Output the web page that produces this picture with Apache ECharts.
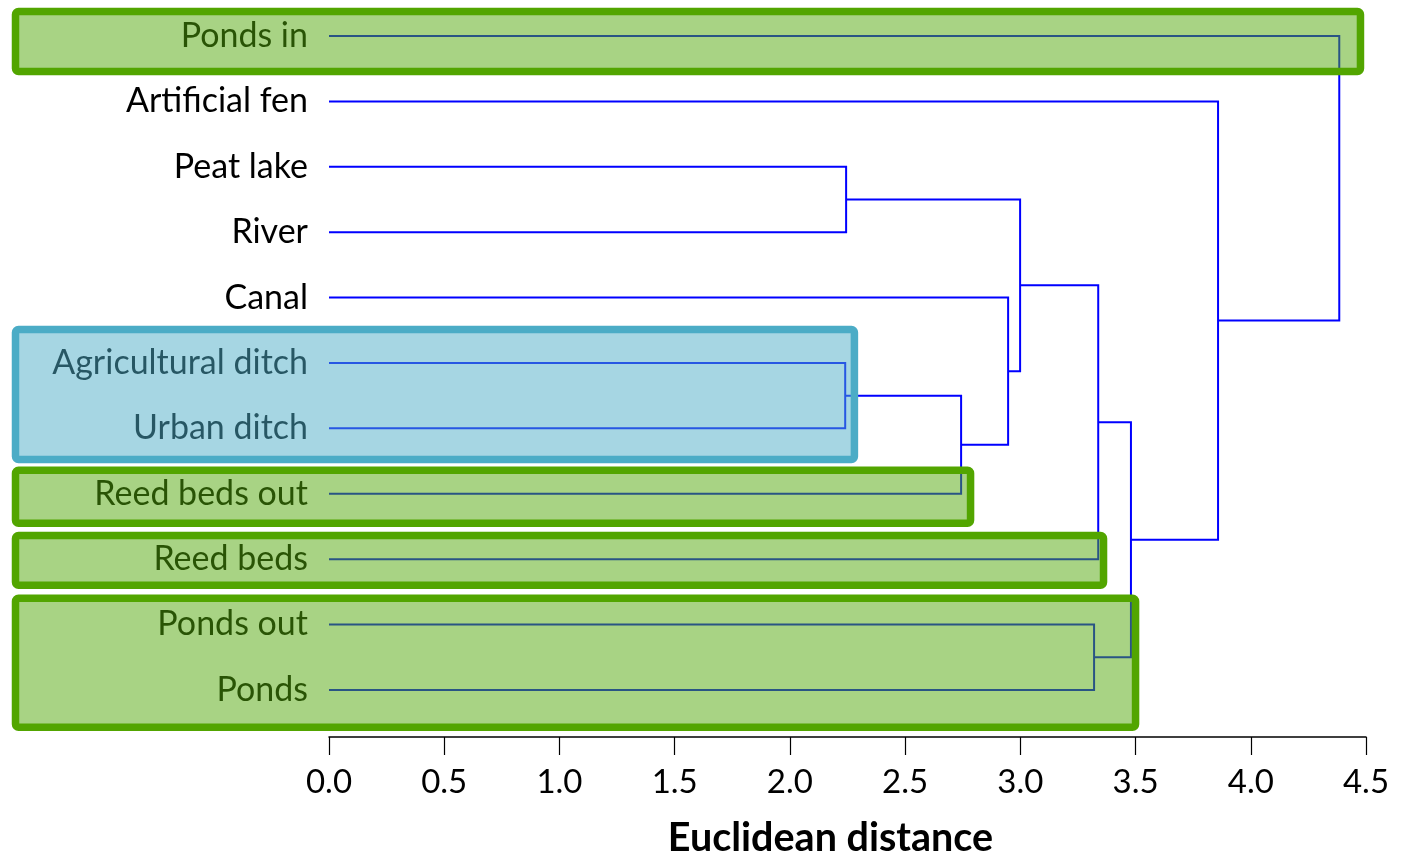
<!DOCTYPE html>
<html>
<head>
<meta charset="utf-8">
<style>
  html, body { margin: 0; padding: 0; background: #ffffff; }
  #chart { width: 1402px; height: 854px; }
</style>
<script src="https://cdn.jsdelivr.net/npm/echarts@6/dist/echarts.min.js"></script>
</head>
<body>
<div id="chart"></div>
<script>
// ---- Data ----
const leaves = ["Ponds in", "Artificial fen", "Peat lake", "River", "Canal",
  "Agricultural ditch", "Urban ditch", "Reed beds out", "Reed beds", "Ponds out", "Ponds"];
// merges: [childA, childB, height]; node ids 0..10 are leaves, 11.. are merges in order
const mergeA = [2, 5, 12, 4, 11, 15, 9, 16, 1, 0];
const mergeB = [3, 6, 7, 13, 14, 8, 10, 17, 18, 19];
const mergeHeight = [2.244, 2.24, 2.743, 2.947, 2.999, 3.338, 3.32, 3.48, 3.858, 4.384];
const xTicks = [0, 0.5, 1, 1.5, 2, 2.5, 3, 3.5, 4, 4.5];
// highlighted groups: top edge, bottom edge (in leaf units), right extent (distance), kind
const boxTop = [-0.375, 4.488, 6.64, 7.64, 8.60];
const boxBottom = [0.543, 6.476, 7.45, 8.40, 10.57];
const boxRight = [4.476, 2.280, 2.784, 3.361, 3.500];
const boxKind = ["green", "blue", "green", "green", "green"];

// ---- Build dendrogram geometry from the arrays ----
const nodeX = leaves.map(() => 0);
const nodeY = leaves.map((_, i) => i);
const linkData = [];
for (let k = 0; k < mergeA.length; k++) {
  const a = mergeA[k], b = mergeB[k], h = mergeHeight[k];
  linkData.push([nodeX[a], nodeY[a], nodeX[b], nodeY[b], h]);
  nodeX.push(h);
  nodeY.push((nodeY[a] + nodeY[b]) / 2);
}
const labelData = leaves.map((name, i) => [0, i, name]);
const boxData = boxTop.map((t, i) => [boxRight[i], t, boxBottom[i], boxKind[i]]);

const FONT = "Lato, 'Open Sans', sans-serif";
const chart = echarts.init(document.getElementById('chart'), null, { renderer: 'canvas' });

chart.setOption({
  animation: false,
  backgroundColor: '#ffffff',
  grid: { left: 329, right: 36, top: 3.3, bottom: 117, containLabel: false, outerBoundsMode: 'none' },
  xAxis: {
    type: 'value', min: 0, max: 4.5, interval: 0.5,
    axisLine: { show: true, onZero: false, lineStyle: { color: '#000', width: 1.5 } },
    axisTick: { show: true, length: 18, lineStyle: { color: '#000', width: 1.2 } },
    splitLine: { show: false },
    axisLabel: {
      margin: 29, color: '#000', fontSize: 33, fontFamily: FONT,
      formatter: v => v.toFixed(1)
    },
    name: 'Euclidean distance',
    nameLocation: 'middle',
    nameGap: 81,
    nameTextStyle: { color: '#000', fontSize: 39.5, fontWeight: 'bold', fontFamily: FONT, padding: [0, 34, 0, 0] }
  },
  yAxis: {
    type: 'value', min: -0.5, max: 10.72, inverse: true, show: false
  },
  series: [
    {
      type: 'custom', z: 2, silent: true,
      data: linkData,
      encode: { x: [0, 2, 4], y: [1, 3] },
      renderItem: function (params, api) {
        const p0 = api.coord([api.value(0), api.value(1)]);
        const p1 = api.coord([api.value(4), api.value(1)]);
        const p2 = api.coord([api.value(4), api.value(3)]);
        const p3 = api.coord([api.value(2), api.value(3)]);
        return {
          type: 'polyline',
          shape: { points: [p0, p1, p2, p3] },
          style: { stroke: '#0000ff', lineWidth: 2, fill: null }
        };
      }
    },
    {
      type: 'custom', z: 3, silent: true,
      data: labelData,
      encode: { x: 0, y: 1 },
      renderItem: function (params, api) {
        const p = api.coord([api.value(0), api.value(1)]);
        return {
          type: 'text',
          x: p[0] - 21, y: p[1],
          style: {
            text: labelData[params.dataIndex][2],
            fill: '#000', font: '34px ' + FONT,
            align: 'right', verticalAlign: 'middle'
          }
        };
      }
    },
    {
      type: 'custom', z: 5, silent: true,
      data: boxData,
      encode: { x: 0, y: [1, 2] },
      renderItem: function (params, api) {
        const tl = api.coord([0, api.value(1)]);
        const br = api.coord([api.value(0), api.value(2)]);
        const kind = boxData[params.dataIndex][3];
        const left = 15.5;
        return {
          type: 'rect',
          shape: { x: left, y: tl[1], width: br[0] - left, height: br[1] - tl[1], r: 3 },
          style: kind === 'green'
            ? { fill: 'rgba(81,167,9,0.5)', stroke: '#52a500', lineWidth: 7.5 }
            : { fill: 'rgba(77,173,199,0.5)', stroke: '#4bacc6', lineWidth: 7.5 }
        };
      }
    }
  ]
});
</script>
</body>
</html>
